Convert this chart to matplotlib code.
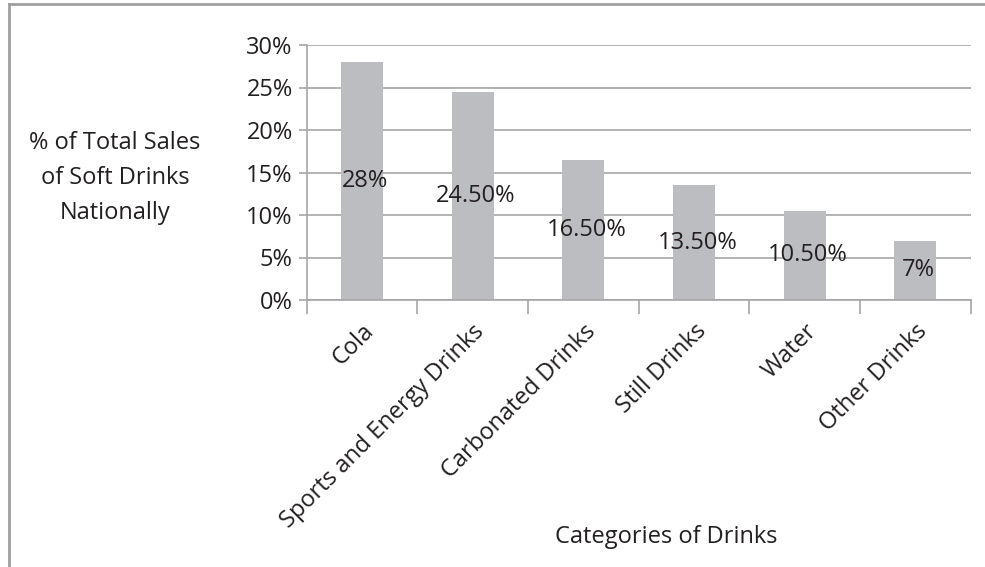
import matplotlib
matplotlib.use('Agg')
import matplotlib.pyplot as plt
from matplotlib.lines import Line2D
from matplotlib.ticker import FixedLocator, PercentFormatter
import numpy as np

categories = ['Cola', 'Sports and Energy Drinks', 'Carbonated Drinks',
              'Still Drinks', 'Water', 'Other Drinks']
shares = [28, 24.5, 16.5, 13.5, 10.5, 7]
bar_labels = ['28%', '24.50%', '16.50%', '13.50%', '10.50%', '7%']
yticks = [0, 5, 10, 15, 20, 25, 30]

plt.rcParams['font.family'] = ['Open Sans', 'DejaVu Sans']
TXT = '#231f20'
GRID = '#a6a6a6'
BAR = '#bcbdc0'
FS = 17

W, H = 985, 567
fig = plt.figure(figsize=(W / 100, H / 100), dpi=100)
ax = fig.add_axes([306.7 / W, 1 - 300 / H, (970.7 - 306.7) / W, (300 - 45) / H])

x = np.arange(len(categories))
ax.bar(x, shares, width=0.38, color=BAR, zorder=2)
for xi, v, lab in zip(x, shares, bar_labels):
    ax.text(xi + 0.03, v / 2, lab, ha='center', va='center', fontsize=FS,
            color=TXT, zorder=3)

ax.set_xlim(-0.5, len(categories) - 0.5)
ax.set_ylim(0, 30)
ax.set_yticks(yticks)
ax.yaxis.set_major_formatter(PercentFormatter(decimals=0))
ax.yaxis.grid(True, color=GRID, linewidth=1.2, zorder=0)
ax.tick_params(axis='y', length=6, width=1.2, color=GRID, labelsize=FS,
               labelcolor=TXT, pad=4)

ax.set_xticks(x)
ax.set_xticklabels(categories, rotation=45, ha='right', rotation_mode='anchor',
                   fontsize=FS, color=TXT)
ax.xaxis.set_minor_locator(FixedLocator(np.arange(-0.5, len(categories), 1)))
ax.tick_params(axis='x', which='major', length=0, pad=14)
ax.tick_params(axis='x', which='minor', length=10, width=1.2, color=GRID)

for side in ['top', 'right']:
    ax.spines[side].set_visible(False)
for side in ['left', 'bottom']:
    ax.spines[side].set_color(GRID)
    ax.spines[side].set_linewidth(1.2)

fig.text(115 / W, 1 - 178 / H, '% of Total Sales\nof Soft Drinks\nNationally',
         ha='center', va='center', fontsize=FS, color=TXT, linespacing=1.6)
fig.text(666 / W, 1 - 537 / H, 'Categories of Drinks', ha='center', va='center',
         fontsize=FS, color=TXT)

# outer frame (only top and left edges fall inside the image)
fig.add_artist(Line2D([9 / W, 9 / W], [0, 1 - 4 / H], color='#a0a0a0', linewidth=2))
fig.add_artist(Line2D([9 / W, 1], [1 - 4 / H, 1 - 4 / H], color='#a0a0a0', linewidth=2))

fig.savefig('out.png', dpi=100)
